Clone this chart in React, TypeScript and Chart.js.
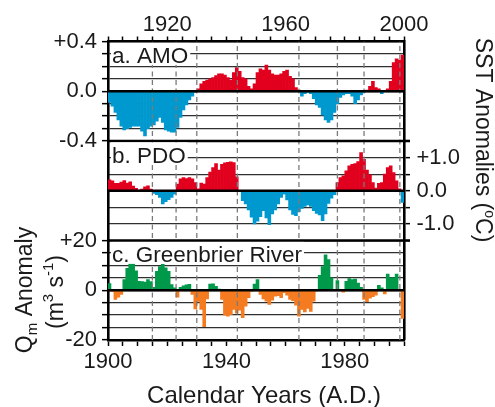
import React, { useEffect, useRef } from "react";
import { Chart, registerables } from "chart.js";

Chart.register(...registerables);

const FONT = "'Liberation Sans', Arial, Helvetica, sans-serif";
const TEXT = "#1a1a1a";
const RED = "#e2001f";
const BLUE = "#0099cf";
const GREEN = "#00994a";
const ORANGE = "#f47b20";

// Calendar years (one annual bar per year)
const startYear = 1900;
const years: number[] = Array.from({ length: 100 }, (_, i) => startYear + i);

// a. AMO SST anomaly (°C)
const amo = [
  -0.09, -0.12, -0.17, -0.23, -0.28, -0.31, -0.30, -0.29, -0.28, -0.28,
  -0.28, -0.32, -0.36, -0.30, -0.28, -0.27, -0.24, -0.21, -0.25, -0.31,
  -0.32, -0.33, -0.33, -0.29, -0.21, -0.15, -0.11, -0.07, -0.04, -0.01,
  0.02, 0.06, 0.08, 0.09, 0.10, 0.11, 0.125, 0.14, 0.14, 0.13,
  0.11, 0.09, 0.15, 0.19, 0.16, 0.11, 0.10, 0.04, 0.02, 0.06,
  0.15, 0.18, 0.17, 0.21, 0.17, 0.14, 0.13, 0.13, 0.14, 0.16,
  0.17, 0.12, 0.10, 0.03, 0.01, -0.04, -0.02, -0.01, -0.02, -0.06,
  -0.11, -0.13, -0.19, -0.23, -0.25, -0.23, -0.17, -0.10, -0.05, -0.03,
  -0.02, -0.02, -0.04, -0.10, -0.07, -0.03, -0.01, 0.01, 0.04, 0.08,
  0.03, 0.02, -0.02, 0.0, 0.02, 0.08, 0.23, 0.26, 0.25, 0.29,
];

// b. PDO SST anomaly (°C)
const pdo = [
  0.33, 0.30, 0.22, 0.22, 0.26, 0.31, 0.23, 0.27, 0.14, 0.07,
  0.01, 0.05, 0.12, 0.15, 0.05, -0.08, -0.12, -0.20, -0.40, -0.33,
  -0.27, -0.20, -0.10, 0.20, 0.36, 0.40, 0.37, 0.40, 0.36, 0.25,
  0.06, 0.23, 0.20, 0.40, 0.56, 0.70, 0.82, 0.62, 0.80, 0.84,
  0.86, 0.87, 0.85, 0.42, -0.03, -0.30, -0.40, -0.58, -0.80, -1.00,
  -0.92, -0.78, -0.60, -0.82, -1.02, -0.70, -0.58, -0.40, -0.20, -0.10,
  -0.28, -0.58, -0.71, -0.75, -0.63, -0.53, -0.47, -0.43, -0.47, -0.60,
  -0.68, -0.73, -0.90, -0.70, -0.38, -0.22, -0.12, 0.25, 0.40, 0.45,
  0.60, 0.75, 0.80, 0.82, 0.88, 1.15, 0.95, 0.62, 0.48, 0.25,
  0.08, 0.22, 0.25, 0.50, 0.70, 0.75, 0.55, 0.30, 0.06, -0.35,
];

// c. Greenbrier River discharge anomaly (m3 s-1)
const greenbrier = [
  2.7, -0.5, -3.7, -2.8, -1.7, 4.3, 8.8, 12.3, 11.3, 7.8,
  3.6, 3.5, 3.3, 4.3, 3.5, 1.2, 7.6, 9.5, 10.5, 9.0,
  7.6, 2.3, 1.0, -2.8, 1.2, 1.8, 2.2, 2.4, -1.7, -7.5,
  -4.5, -7.7, -14.6, -3.5, 2.5, 2.6, 1.6, 0.5, -3.7, -10.0,
  -10.4, -9.8, -7.7, -9.2, -8.0, -11.0, -6.4, -3.0, -0.5, 2.5,
  4.3, -1.7, -3.5, -4.4, -5.7, -4.0, -2.4, -2.2, -3.0, -1.0,
  -2.0, -3.7, -4.2, -6.0, -10.4, -7.7, -8.7, -7.3, -8.5, -4.4,
  -0.3, 6.0, 9.5, 14.2, 12.3, 5.0, 0.0, 3.9, 0.0, -0.8,
  3.6, 4.7, 4.3, 4.5, 2.9, 1.2, -3.7, -4.6, -3.2, -2.6,
  -2.0, 2.0, 1.0, -1.5, 6.5, 5.0, 5.0, 6.5, 0.3, -11.3,
];

// regime-shift years (dashed vertical lines)
const shiftYears = [1915, 1923, 1930, 1943.7, 1964.5, 1977.5, 1986.5, 1998.6];

// tick values and tick labels
const xTickYears = [1900, 1905, 1910, 1915, 1920, 1925, 1930, 1935, 1940, 1945, 1950,
  1955, 1960, 1965, 1970, 1975, 1980, 1985, 1990, 1995, 2000];
const bottomYearLabels = [1900, 1940, 1980];
const topYearLabels = [1920, 1960, 2000];

const amoTicks = [-0.4, -0.3, -0.2, -0.1, 0, 0.1, 0.2, 0.3, 0.4];
const amoTickLabels = ["-0.4", "", "", "", "0.0", "", "", "", "+0.4"];
const pdoTicks = [-1.5, -1.0, -0.5, 0, 0.5, 1.0, 1.5];
const pdoTickLabels = ["", "-1.0", "", "0.0", "", "+1.0", ""];
const qTicks = [-20, -15, -10, -5, 0, 5, 10, 15, 20];
const qTickLabels = ["-20", "", "", "", "0", "", "", "", "+20"];

const panelNames = ["a. AMO", "b. PDO", "c. Greenbrier River"];

const TICK_LEN = 6;
const TICK_PAD = 5;

// each panel occupies one third of the plot; axis spans whole plot height
function panelRange(lo: number, hi: number, index: number, count = 3) {
  const span = hi - lo;
  return { min: lo - (count - 1 - index) * span, max: hi + index * span };
}

type Piece = { t: string; size: number; dy: number };
function drawRich(ctx: CanvasRenderingContext2D, pieces: Piece[], x: number, y: number, angle: number) {
  ctx.save();
  ctx.translate(x, y);
  ctx.rotate(angle);
  ctx.textAlign = "left";
  ctx.textBaseline = "alphabetic";
  let w = 0;
  for (const p of pieces) {
    ctx.font = `${p.size}px ${FONT}`;
    w += ctx.measureText(p.t).width;
  }
  let u = -w / 2;
  for (const p of pieces) {
    ctx.font = `${p.size}px ${FONT}`;
    ctx.fillText(p.t, u, p.dy);
    u += ctx.measureText(p.t).width;
  }
  ctx.restore();
}

const decor = {
  id: "decor",
  afterDatasetsDraw(chart: any) {
    const { ctx, chartArea: a, scales } = chart;
    const yA = scales.yA, yB = scales.yB, yC = scales.yC;
    ctx.save();
    ctx.strokeStyle = "#000";
    ctx.lineWidth = 2.6;
    const hline = (y: number, x1: number, x2: number) => {
      ctx.beginPath();
      ctx.moveTo(x1, y);
      ctx.lineTo(x2, y);
      ctx.stroke();
    };
    hline(yA.getPixelForValue(0), a.left, a.right);
    hline(yB.getPixelForValue(0), a.left, a.right);
    hline(yC.getPixelForValue(0), a.left, a.right);
    hline(yA.getPixelForValue(amoTicks[0]), a.left, a.right + 6);
    hline(yB.getPixelForValue(pdoTicks[0]), a.left, a.right + 6);

    // panel labels on white boxes
    const tops = [
      yA.getPixelForValue(amoTicks[amoTicks.length - 1]),
      yB.getPixelForValue(pdoTicks[pdoTicks.length - 1]),
      yC.getPixelForValue(qTicks[qTicks.length - 1]),
    ];
    ctx.font = `22.5px ${FONT}`;
    ctx.textAlign = "left";
    ctx.textBaseline = "alphabetic";
    const tx = a.left + 4;
    panelNames.forEach((name, i) => {
      const w = ctx.measureText(name).width;
      ctx.fillStyle = "#fff";
      ctx.fillRect(tx - 1, tops[i] + 1.4, w + 3, 22);
      ctx.fillStyle = TEXT;
      ctx.fillText(name, tx, tops[i] + 21.5);
    });
    ctx.restore();
  },
  afterDraw(chart: any) {
    const ctx = chart.ctx as CanvasRenderingContext2D;
    const yC = chart.scales.yC;
    ctx.save();
    ctx.fillStyle = TEXT;

    // discharge tick labels, placed with the yC scale
    ctx.font = `22px ${FONT}`;
    ctx.textAlign = "right";
    ctx.textBaseline = "middle";
    qTicks.forEach((v, i) => {
      if (qTickLabels[i]) {
        ctx.fillText(qTickLabels[i], yC.right - TICK_LEN - TICK_PAD, yC.getPixelForValue(v));
      }
    });

    ctx.font = `24px ${FONT}`;
    ctx.textAlign = "center";
    ctx.textBaseline = "alphabetic";
    ctx.fillText("Calendar Years (A.D.)", 264, 403);
    drawRich(ctx, [
      { t: "SST Anomalies (", size: 23, dy: 0 },
      { t: "o", size: 14, dy: -9 },
      { t: "C)", size: 23, dy: 0 },
    ], 476, 140, Math.PI / 2);
    drawRich(ctx, [
      { t: "Q", size: 23, dy: 0 },
      { t: "m", size: 15, dy: 5 },
      { t: " Anomaly", size: 23, dy: 0 },
    ], 32, 290, -Math.PI / 2);
    drawRich(ctx, [
      { t: "(m", size: 23, dy: 0 },
      { t: "3", size: 15, dy: -10 },
      { t: " s", size: 23, dy: 0 },
      { t: "-1", size: 15, dy: -10 },
      { t: ")", size: 23, dy: 0 },
    ], 63, 292, -Math.PI / 2);
    ctx.restore();
  },
};

export default function App() {
  const ref = useRef<HTMLCanvasElement>(null);

  useEffect(() => {
    const canvas = ref.current;
    if (!canvas) return;

    const barCommon = {
      type: "bar" as const,
      xAxisID: "x",
      grouped: false,
      categoryPercentage: 1,
      barPercentage: 1,
      borderWidth: 0,
      order: 1,
    };

    const shiftData: any[] = [];
    const cRange = panelRange(-20, 20, 2);
    shiftYears.forEach((yr) => {
      shiftData.push({ x: yr, y: cRange.min }, { x: yr, y: cRange.max }, { x: yr, y: null });
    });

    const tickFont = { family: FONT, size: 22 };
    const yGrid = {
      color: "#303030",
      lineWidth: 1.3,
      tickLength: TICK_LEN,
      tickColor: "#000",
      tickWidth: 1.5,
      drawOnChartArea: true,
    };

    const chart = new Chart(canvas, {
      type: "bar",
      data: {
        datasets: [
          {
            type: "line",
            label: "shifts",
            data: shiftData,
            xAxisID: "x",
            yAxisID: "yC",
            borderColor: "#7a7a7a",
            borderWidth: 1.3,
            borderDash: [5, 3.5],
            pointRadius: 0,
            fill: false,
            spanGaps: false,
            order: 0,
          } as any,
          {
            ...barCommon,
            label: "AMO",
            yAxisID: "yA",
            data: years.map((yr, i) => ({ x: yr + 0.5, y: amo[i] })),
            backgroundColor: (c: any) => (c.raw && c.raw.y >= 0 ? RED : BLUE),
          } as any,
          {
            ...barCommon,
            label: "PDO",
            yAxisID: "yB",
            data: years.map((yr, i) => ({ x: yr + 0.5, y: pdo[i] })),
            backgroundColor: (c: any) => (c.raw && c.raw.y >= 0 ? RED : BLUE),
          } as any,
          {
            ...barCommon,
            label: "Greenbrier River",
            yAxisID: "yC",
            data: years.map((yr, i) => ({ x: yr + 0.5, y: greenbrier[i] })),
            backgroundColor: (c: any) => (c.raw && c.raw.y >= 0 ? GREEN : ORANGE),
          } as any,
        ],
      },
      options: {
        responsive: false,
        animation: false,
        devicePixelRatio: 1,
        layout: { padding: 0 },
        plugins: {
          legend: { display: false },
          tooltip: { enabled: false },
          title: { display: false },
        },
        scales: {
          x: {
            type: "linear",
            position: "bottom",
            min: xTickYears[0],
            max: xTickYears[xTickYears.length - 1],
            offset: false,
            afterBuildTicks: (s: any) => {
              s.ticks = xTickYears.map((v) => ({ value: v }));
            },
            afterFit: (s: any) => {
              s.height = 67;
            },
            ticks: {
              autoSkip: false,
              maxRotation: 0,
              padding: 2.8,
              color: TEXT,
              font: tickFont,
              callback: (v: any) => (bottomYearLabels.includes(Number(v)) ? String(v) : ""),
            },
            grid: {
              offset: false,
              drawOnChartArea: false,
              tickLength: 6,
              tickColor: "#000",
              tickWidth: 1.5,
            },
            border: { display: true, color: "#000", width: 2.6 },
          },
          x2: {
            type: "linear",
            position: "top",
            min: xTickYears[0],
            max: xTickYears[xTickYears.length - 1],
            offset: false,
            afterBuildTicks: (s: any) => {
              s.ticks = xTickYears.map((v) => ({ value: v }));
            },
            afterFit: (s: any) => {
              s.height = 41.5;
            },
            ticks: {
              autoSkip: false,
              maxRotation: 0,
              padding: -1.2,
              color: TEXT,
              font: tickFont,
              callback: (v: any) => (topYearLabels.includes(Number(v)) ? String(v) : ""),
            },
            grid: {
              offset: false,
              drawOnChartArea: false,
              tickLength: 5,
              tickColor: "#000",
              tickWidth: 1.5,
            },
            border: { display: true, color: "#000", width: 2.6 },
          },
          yA: {
            type: "linear",
            position: "left",
            weight: 1,
            ...panelRange(-0.4, 0.4, 0),
            afterBuildTicks: (s: any) => {
              s.ticks = amoTicks.map((v) => ({ value: v }));
            },
            afterFit: (s: any) => {
              s.width = 108;
            },
            ticks: {
              autoSkip: false,
              padding: TICK_PAD,
              color: TEXT,
              font: tickFont,
              callback: (_v: any, i: number) => amoTickLabels[i],
            },
            grid: yGrid,
            border: { display: true, color: "#000", width: 2.6 },
          },
          yC: {
            type: "linear",
            position: "left",
            weight: 0,
            ...panelRange(-20, 20, 2),
            afterBuildTicks: (s: any) => {
              s.ticks = qTicks.map((v) => ({ value: v }));
            },
            afterFit: (s: any) => {
              s.width = 0;
            },
            ticks: {
              display: false,
              autoSkip: false,
            },
            grid: yGrid,
            border: { display: false },
          },
          yB: {
            type: "linear",
            position: "right",
            ...panelRange(-1.5, 1.5, 1),
            afterBuildTicks: (s: any) => {
              s.ticks = pdoTicks.map((v) => ({ value: v }));
            },
            afterFit: (s: any) => {
              s.width = 91;
            },
            ticks: {
              autoSkip: false,
              padding: 6.5,
              color: TEXT,
              font: tickFont,
              callback: (_v: any, i: number) => pdoTickLabels[i],
            },
            grid: yGrid,
            border: { display: true, color: "#000", width: 2.6 },
          },
        },
      } as any,
      plugins: [decor],
    });

    return () => chart.destroy();
  }, []);

  return (
    <div style={{ position: "fixed", left: 0, top: 0, width: 495, height: 407, background: "#fff" }}>
      <canvas ref={ref} width={495} height={407} style={{ display: "block", width: 495, height: 407 }} />
    </div>
  );
}
